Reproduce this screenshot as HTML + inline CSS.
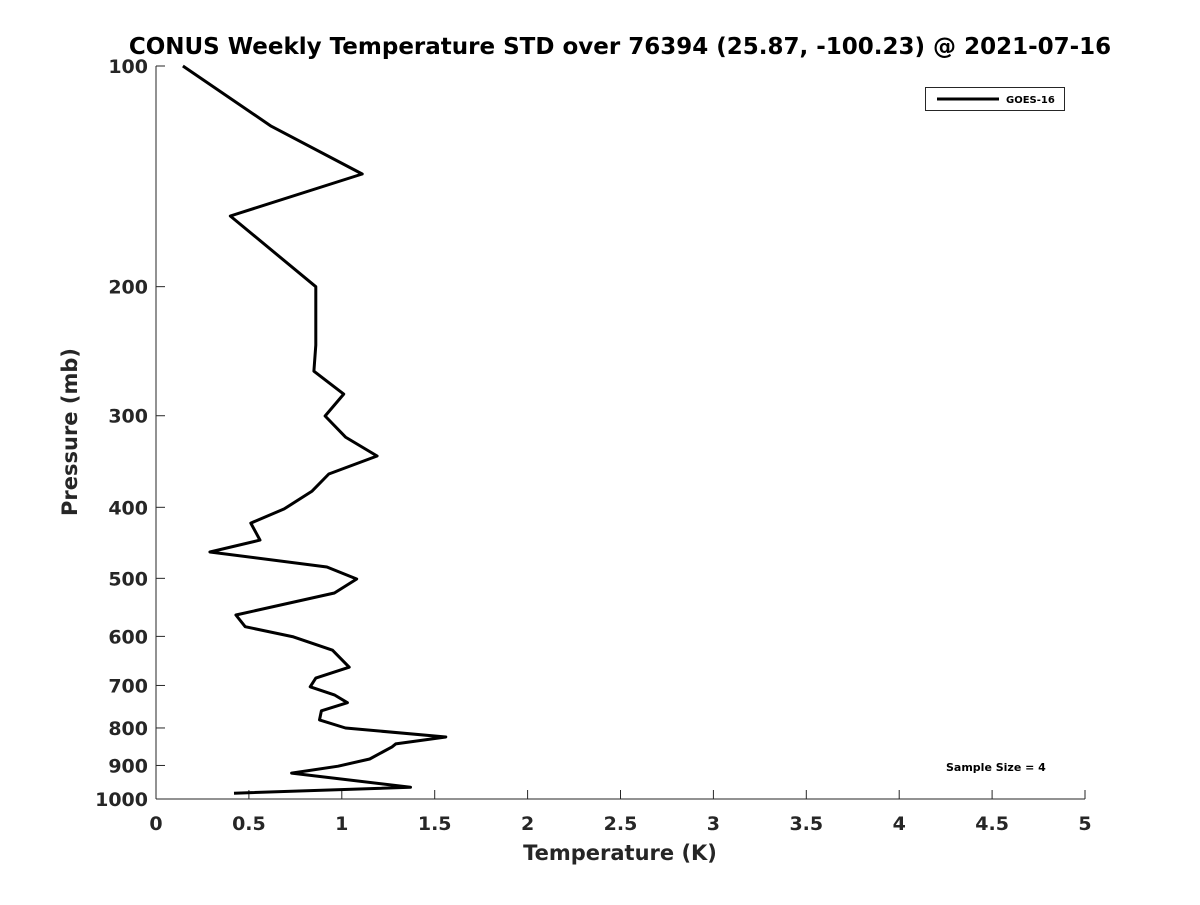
<!DOCTYPE html>
<html><head><meta charset="utf-8"><style>
body{margin:0;background:#fff;font-family:"Liberation Sans","DejaVu Sans",sans-serif}
svg text{font-family:"DejaVu Sans","Liberation Sans",sans-serif;font-weight:bold;fill:#262626}
</style></head><body>
<svg id="chart" width="1200" height="900" xmlns="http://www.w3.org/2000/svg">
<rect width="1200" height="900" fill="#fff"/>
<text x="620" y="54" text-anchor="middle" font-size="23" fill="#000" style="fill:#000">CONUS Weekly Temperature STD over 76394 (25.87, -100.23) @ 2021-07-16</text>
<g id="axes"></g>
<path id="series" fill="none" stroke="#000" stroke-width="3" stroke-linejoin="round"/>
<g>
<rect x="925.5" y="87.5" width="139" height="23" fill="#fff" stroke="#262626" stroke-width="1"/>
<line x1="937" y1="99" x2="999" y2="99" stroke="#000" stroke-width="3"/>
<text x="1006" y="103" font-size="10" style="fill:#000">GOES-16</text>
</g>
<text x="946" y="771" font-size="11" style="fill:#000">Sample Size = 4</text>
<text x="620" y="860" text-anchor="middle" font-size="21">Temperature (K)</text>
<text transform="translate(77,432) rotate(-90)" text-anchor="middle" font-size="21">Pressure (mb)</text>
</svg>
<script>
const temps=[0.145,0.62,1.11,0.40,0.86,0.86,0.85,1.01,0.91,1.02,1.19,0.93,0.84,0.69,0.51,0.56,0.29,0.92,1.08,0.96,0.43,0.48,0.74,0.95,1.04,0.86,0.83,0.96,1.03,0.89,0.88,1.02,1.56,1.29,1.27,1.15,0.98,0.73,1.37,0.42];
const pressures=[100,120.8,140.4,160.2,200,240.3,260.8,280.3,300.3,320.8,340.5,360.3,380.1,402,420.3,443.4,460.3,482.5,501,523.6,561,582,601,626.6,661,684,703,721,739,758,780,800,823,841,849,882,902,922,964,982];
const xTicks=[0,0.5,1,1.5,2,2.5,3,3.5,4,4.5,5];
const xTickLabels=["0","0.5","1","1.5","2","2.5","3","3.5","4","4.5","5"];
const yTicks=[100,200,300,400,500,600,700,800,900,1000];
const L=156,R=1085,T=66,B=799;
const xs=v=>L+(v-0)/(5-0)*(R-L);
const ys=p=>T+(Math.log10(p)-2)/(3-2)*(B-T);
const NS="http://www.w3.org/2000/svg";
const ax=document.getElementById('axes');
function mk(tag,attrs,parent){const e=document.createElementNS(NS,tag);for(const k in attrs)e.setAttribute(k,attrs[k]);parent.appendChild(e);return e;}
const xa=mk('line',{x1:L,y1:B,x2:R,y2:B,stroke:'#262626','stroke-width':1},ax);


const ya=mk('line',{x1:L,y1:T,x2:L,y2:B,stroke:'#262626','stroke-width':1},ax);


xTicks.forEach((v,i)=>{
  mk('line',{x1:xs(v),y1:B,x2:xs(v),y2:B-9,stroke:'#262626'},ax);
  const t=mk('text',{x:xs(v),y:B+31,'text-anchor':'middle','font-size':19},ax);
  t.textContent=xTickLabels[i];
  
  
});
yTicks.forEach(p=>{
  mk('line',{x1:L,y1:ys(p),x2:L+9,y2:ys(p),stroke:'#262626'},ax);
  const t=mk('text',{x:L-8,y:ys(p)+7,'text-anchor':'end','font-size':19},ax);
  t.textContent=String(p);
  
  
});
document.getElementById('series').setAttribute('d',temps.map((v,i)=>(i?'L':'M')+xs(v).toFixed(1)+' '+ys(pressures[i]).toFixed(1)).join(' '));
</script>
</body></html>
